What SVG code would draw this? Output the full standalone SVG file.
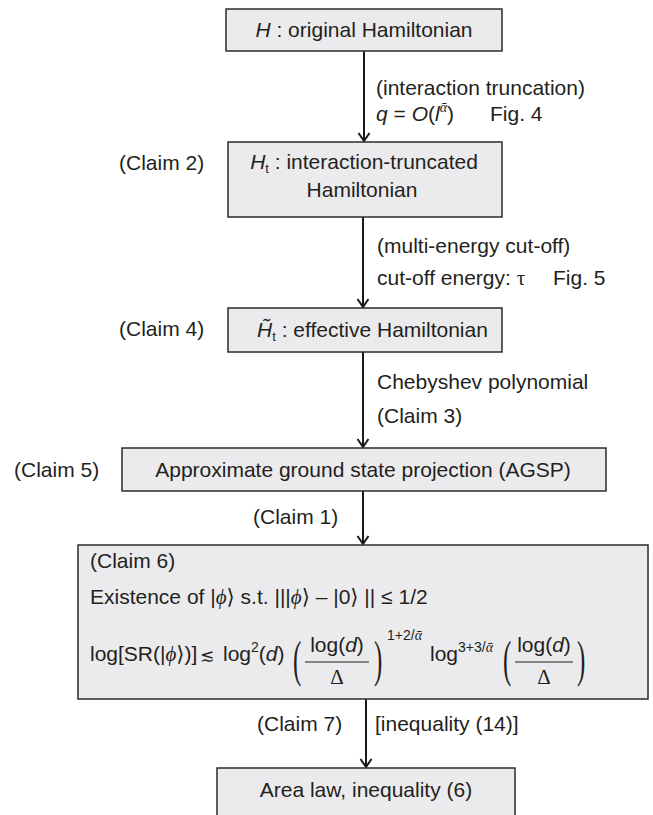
<svg xmlns="http://www.w3.org/2000/svg" width="653" height="815" viewBox="0 0 653 815">
<style>
text{font-family:"Liberation Sans",Arial,"DejaVu Sans",sans-serif;font-size:21px;fill:#231f20}
.box{fill:#ebebed;stroke:#2b2b2b;stroke-width:1.5}
.it{font-style:italic}
.sub{font-size:13px}
.sup{font-size:14px}
.serif{font-family:"Liberation Serif","DejaVu Serif",serif}
.m{text-anchor:middle}
.edge{stroke:#1a1a1a;stroke-width:2;fill:none}
.bar{stroke:#231f20;stroke-width:1.2}
.par{font-family:"Liberation Serif","DejaVu Serif",serif;font-size:50px}
</style>
<defs>
<marker id="arr" viewBox="0 0 10 14" refX="9" refY="7" markerWidth="10" markerHeight="14" markerUnits="userSpaceOnUse" orient="auto">
<path d="M1,1.5 L9,7 L1,12.5" fill="none" stroke="#1a1a1a" stroke-width="2"/>
</marker>
</defs>

<g id="connectors">
<line class="edge" x1="364" y1="51" x2="364" y2="141" marker-end="url(#arr)"/>
<line class="edge" x1="363" y1="217" x2="363" y2="307" marker-end="url(#arr)"/>
<line class="edge" x1="363" y1="352" x2="363" y2="447" marker-end="url(#arr)"/>
<line class="edge" x1="363" y1="491" x2="363" y2="544" marker-end="url(#arr)"/>
<line class="edge" x1="366" y1="699" x2="366" y2="767" marker-end="url(#arr)"/>
<text x="376" y="95">(interaction truncation)</text>
<text x="376" y="121"><tspan class="it">q</tspan> = <tspan class="it">O</tspan>(<tspan class="it">l</tspan><tspan class="sup serif it" dy="-9">ᾱ</tspan><tspan dy="9">)</tspan></text>
<text x="490" y="121">Fig. 4</text>
<text x="377" y="253">(multi-energy cut-off)</text>
<text x="377" y="285">cut-off energy: <tspan class="serif">τ</tspan></text>
<text x="553" y="285">Fig. 5</text>
<text x="377" y="389">Chebyshev polynomial</text>
<text x="377" y="423">(Claim 3)</text>
<text x="253" y="524">(Claim 1)</text>
<text x="257" y="731">(Claim 7)</text>
<text x="375" y="731">[inequality (14)]</text>
</g>

<g id="n1">
<rect class="box" x="226" y="9" width="276" height="42"/>
<text class="m" x="364" y="37"><tspan class="it">H</tspan> : original Hamiltonian</text>
</g>

<g id="n2">
<rect class="box" x="228" y="142" width="274" height="75"/>
<text x="119" y="170">(Claim 2)</text>
<text class="m" x="364" y="169"><tspan class="it">H</tspan><tspan class="sub" dy="4">t</tspan><tspan dy="-4"> : interaction-truncated</tspan></text>
<text class="m" x="362" y="197">Hamiltonian</text>
</g>

<g id="n3">
<rect class="box" x="228" y="308" width="274" height="44"/>
<text x="119" y="336">(Claim 4)</text>
<text x="257" y="337"><tspan class="it">H̃</tspan><tspan class="sub" dy="4">t</tspan><tspan dy="-4"> : effective Hamiltonian</tspan></text>
</g>

<g id="n4">
<rect class="box" x="122" y="448" width="484" height="43"/>
<text x="14" y="477">(Claim 5)</text>
<text class="m" x="363" y="477">Approximate ground state projection (AGSP)</text>
</g>

<g id="n5">
<rect class="box" x="78" y="545" width="570" height="154"/>
<text x="90" y="568">(Claim 6)</text>
<text x="90" y="604">Existence of |<tspan class="serif it">ϕ</tspan>⟩ s.t. |||<tspan class="serif it">ϕ</tspan>⟩ – |0⟩ || ≤ 1/2</text>
<text x="90" y="661">log[SR(|<tspan class="serif it">ϕ</tspan>⟩)]</text>
<text x="200" y="661" style="font-size:17px">≲</text>
<text x="223" y="661">log<tspan class="sup" dy="-9">2</tspan><tspan dy="9">(</tspan><tspan class="it">d</tspan>)</text>
<text class="par" transform="translate(293,676) scale(0.5,1)">(</text>
<text class="m" x="337" y="652">log(<tspan class="it">d</tspan>)</text>
<line class="bar" x1="305" y1="662" x2="369" y2="662"/>
<text class="m serif" x="337" y="684">Δ</text>
<text class="par" transform="translate(374,676) scale(0.5,1)">)</text>
<text class="sup" x="387" y="640">1+2/<tspan class="serif it">ᾱ</tspan></text>
<text x="430" y="661">log<tspan class="sup" dy="-9">3+3/<tspan class="serif it">ᾱ</tspan></tspan></text>
<text class="par" transform="translate(503,676) scale(0.5,1)">(</text>
<text class="m" x="544" y="652">log(<tspan class="it">d</tspan>)</text>
<line class="bar" x1="515" y1="662" x2="573" y2="662"/>
<text class="m serif" x="544" y="684">Δ</text>
<text class="par" transform="translate(577,676) scale(0.5,1)">)</text>
</g>

<g id="n6">
<rect class="box" x="217" y="768" width="298" height="60"/>
<text class="m" x="366" y="797">Area law, inequality (6)</text>
</g>
</svg>
